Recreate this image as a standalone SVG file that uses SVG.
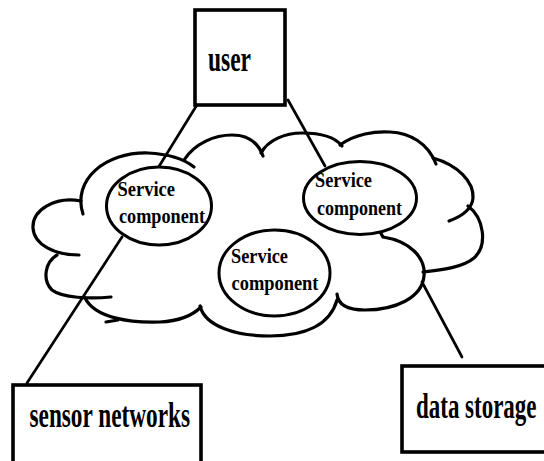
<svg xmlns="http://www.w3.org/2000/svg" width="544" height="461" viewBox="0 0 544 461">
  <style>
    .box { fill: #fff; stroke: #000; stroke-width: 3.6; }
    .lobe { fill: none; stroke: #000; stroke-width: 3.2; stroke-linecap: round; }
    .svc { fill: #fff; stroke: #000; stroke-width: 3; }
    .link { stroke: #000; stroke-width: 2.7; stroke-linecap: round; }
    .lbl { font-family: "Liberation Serif", "Times New Roman", serif; font-weight: bold; font-size: 35px; fill: #000; }
    .svct { font-family: "Liberation Serif", "Times New Roman", serif; font-weight: bold; font-size: 22px; fill: #000; }
  </style>
  <rect width="544" height="461" fill="#fff"/>

  <!-- cloud: a ring of overlapping arcs -->
  <g id="cloud">
    <path class="lobe" d="M83,214 C72,180 105,152 148,153 C168,154 184,159 194,167"/>
    <path class="lobe" d="M81,201 C55,196 32,210 33,228 C34,245 55,255 79,255"/>
    <path class="lobe" d="M57,255 C45,262 42,280 52,290 C62,298 90,299 111,297"/>
    <path class="lobe" d="M85,298 C95,318 130,323 160,322 C180,321 192,316 201,307"/>
    <path class="lobe" d="M106,322 L118,320"/>
    <path class="lobe" d="M200,306 C205,326 235,336 270,336 C305,336 330,325 337,300"/>
    <path class="lobe" d="M378,228 L383,237 C410,241 426,258 424,276 C422,298 395,310 365,310 C348,310 338,305 337,294"/>
    <path class="lobe" d="M468,206 C484,218 488,245 474,258 C462,268 440,270 423,272"/>
    <path class="lobe" d="M433,158 C458,165 474,182 473,198 C472,210 460,217 449,221"/>
    <path class="lobe" d="M340,145 C355,134 375,131 390,132 C410,133 428,143 436,164"/>
    <path class="lobe" d="M261,153 C268,140 285,133 302,133 C320,133 335,137 342,146"/>
    <path class="lobe" d="M184,160 C195,143 215,135 232,135 C248,135 258,142 263,156"/>
  </g>

  <!-- connectors -->
  <g id="connectors">
    <line class="link" x1="200" y1="100" x2="158" y2="168"/>
    <line class="link" x1="288" y1="100" x2="325" y2="166"/>
    <line class="link" x1="122" y1="237" x2="27" y2="383"/>
    <line class="link" x1="422" y1="282" x2="462" y2="357"/>
  </g>

  <g id="user">
    <rect class="box" x="195" y="10" width="90" height="95"/>
    <text class="lbl" x="208" y="71" textLength="43" lengthAdjust="spacingAndGlyphs">user</text>
  </g>

  <g id="service-left">
    <ellipse class="svc" cx="159" cy="206" rx="52.5" ry="39"/>
    <text class="svct" x="117.5" y="196" textLength="57.5" lengthAdjust="spacingAndGlyphs">Service</text>
    <text class="svct" x="119" y="222.5" textLength="86" lengthAdjust="spacingAndGlyphs">component</text>
  </g>

  <g id="service-right">
    <ellipse class="svc" cx="360" cy="198" rx="56.5" ry="36.5"/>
    <text class="svct" x="315" y="186.5" textLength="57" lengthAdjust="spacingAndGlyphs">Service</text>
    <text class="svct" x="317" y="215" textLength="85" lengthAdjust="spacingAndGlyphs">component</text>
  </g>

  <g id="service-middle">
    <ellipse class="svc" cx="274.5" cy="273" rx="55.5" ry="43"/>
    <text class="svct" x="231" y="262.5" textLength="57" lengthAdjust="spacingAndGlyphs">Service</text>
    <text class="svct" x="231.5" y="290" textLength="87" lengthAdjust="spacingAndGlyphs">component</text>
  </g>

  <g id="sensor-networks">
    <rect class="box" x="13" y="385" width="188" height="95"/>
    <text class="lbl" x="29.5" y="427" textLength="160.5" lengthAdjust="spacingAndGlyphs">sensor networks</text>
  </g>

  <g id="data-storage">
    <rect class="box" x="402" y="366" width="160" height="86"/>
    <text class="lbl" x="416" y="418" textLength="120.5" lengthAdjust="spacingAndGlyphs">data storage</text>
  </g>
</svg>
